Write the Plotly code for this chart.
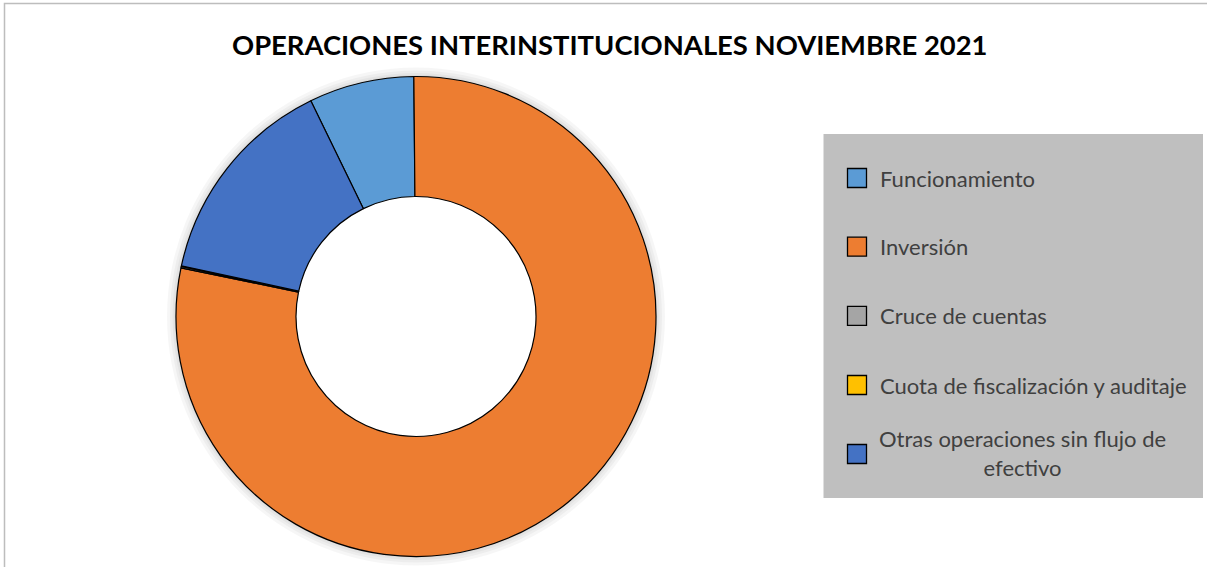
import textwrap
import plotly.graph_objects as go

# ---- data ----
title_text = "OPERACIONES INTERINSTITUCIONALES NOVIEMBRE 2021"
labels = [
    "Funcionamiento",
    "Inversión",
    "Cruce de cuentas",
    "Cuota de fiscalización y auditaje",
    "Otras operaciones sin flujo de efectivo",
]
values = [7.08, 78.39, 0.10, 0.04, 14.39]
colors = ["#5B9BD5", "#ED7D31", "#A5A5A5", "#FFC000", "#4472C4"]

W, H = 1207, 567
FONT = "Lato"

# donut geometry (pixels)
cx, cy, r = 416, 316.5, 240

fig = go.Figure(
    go.Pie(
        labels=labels,
        values=values,
        hole=0.5,
        sort=False,
        direction="clockwise",
        rotation=-26.0,
        marker=dict(colors=colors, line=dict(color="#000000", width=1.2)),
        textinfo="none",
        hoverinfo="label+percent",
        showlegend=False,
        domain=dict(
            x=[(cx - r) / W, (cx + r) / W],
            y=[(H - cy - r) / H, (H - cy + r) / H],
        ),
    )
)

def px(x):
    return x / W

def py(y):
    return 1 - y / H

def circle(rad, **kw):
    return dict(type="circle", xref="paper", yref="paper",
                x0=px(cx - rad), x1=px(cx + rad),
                y0=py(cy + rad), y1=py(cy - rad), layer="below", **kw)

shapes = []
annotations = []

# soft shadow around the donut (outer glow), hole kept white
for dr in (9, 6, 3.5, 1.5):
    shapes.append(circle(r + dr, line=dict(width=0), fillcolor="rgba(0,0,0,0.035)"))
shapes.append(circle(r * 0.5, line=dict(width=0), fillcolor="#FFFFFF"))

# outer chart border (top/left visible)
shapes.append(dict(type="rect", xref="paper", yref="paper",
                   x0=px(4.5), x1=px(W + 5), y0=py(H + 5), y1=py(3.5),
                   line=dict(color="#BDBDBD", width=1.5), fillcolor="rgba(0,0,0,0)",
                   layer="above"))

# legend box
box_x0, box_x1, box_y0, box_y1 = 823.5, 1203, 134, 498
shapes.append(dict(type="rect", xref="paper", yref="paper",
                   x0=px(box_x0), x1=px(box_x1), y0=py(box_y1), y1=py(box_y0),
                   line=dict(width=0), fillcolor="#BFBFBF", layer="below"))

item_y = [178, 246.7, 315.8, 385, 454]
sw_x, sw = 857, 19
text_x = 878
LEG_SIZE = 22
for lab, col, yy in zip(labels, colors, item_y):
    shapes.append(dict(type="rect", xref="paper", yref="paper",
                       x0=px(sw_x - sw / 2), x1=px(sw_x + sw / 2),
                       y0=py(yy + sw / 2), y1=py(yy - sw / 2),
                       line=dict(color="#000000", width=1.3), fillcolor=col,
                       layer="above"))
    if len(lab) > 34:
        txt = "<br>".join(textwrap.wrap(lab, 30))
        annotations.append(dict(x=px(1022), y=py(yy - 1), xref="paper", yref="paper",
                                text=txt, showarrow=False, xanchor="center",
                                yanchor="middle", align="center",
                                font=dict(family=FONT, size=LEG_SIZE, color="#404040")))
    else:
        annotations.append(dict(x=px(text_x), y=py(yy), xref="paper", yref="paper",
                                text=lab, showarrow=False, xanchor="left",
                                yanchor="middle", align="left",
                                font=dict(family=FONT, size=LEG_SIZE, color="#404040")))

# title
annotations.append(dict(x=px(610), y=py(45), xref="paper", yref="paper",
                        text="<b>" + title_text + "</b>", showarrow=False,
                        xanchor="center", yanchor="middle",
                        font=dict(family=FONT, size=27.4, color="#000000")))

fig.update_layout(
    width=W, height=H,
    margin=dict(l=0, r=0, t=0, b=0),
    paper_bgcolor="#FFFFFF",
    plot_bgcolor="#FFFFFF",
    shapes=shapes,
    annotations=annotations,
    showlegend=False,
)

fig.write_html(
    "out.html",
    config={"displayModeBar": False},
    post_script="document.body.style.margin='0px';document.body.style.overflow='hidden';",
)
